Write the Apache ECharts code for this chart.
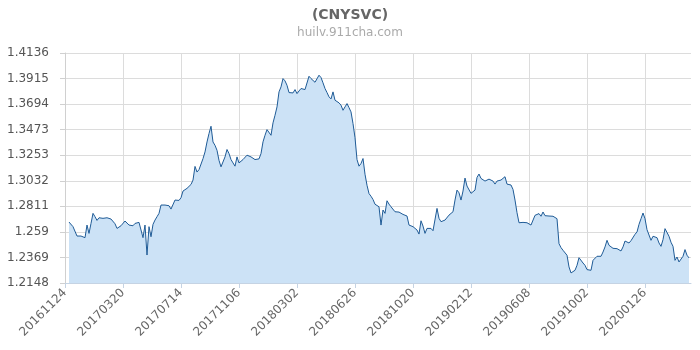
<!DOCTYPE html>
<html>
<head>
<meta charset="utf-8">
<script src="https://cdn.jsdelivr.net/npm/echarts@6/dist/echarts.min.js"></script>
<style>
html, body { margin: 0; padding: 0; background: #fff; }
#main { width: 700px; height: 350px; }
</style>
</head>
<body>
<div id="main"></div>
<script>
// one sample every 4 days, 29 samples between two date labels
const xTickLabels = ["20161124", "20170320", "20170714", "20171106", "20180302", "20180626",
    "20181020", "20190212", "20190608", "20191002", "20200126"]
const yTicks = [1.2148, 1.2369, 1.259, 1.2811, 1.3032, 1.3253, 1.3473, 1.3694, 1.3915, 1.4136]

const rates = [
    null, null,
    1.2675, 1.2686, 1.2635, 1.2626, 1.2554, 1.2563, 1.2554, 1.2568, 1.2540, 1.2649,
    1.2577, 1.2663, 1.2750, 1.2721, 1.2689, 1.2712, 1.2701, 1.2707, 1.2698, 1.2712,
    1.2707, 1.2701, 1.2707, 1.2660, 1.2620, 1.2632, 1.2643, 1.2643, 1.2684, 1.2678,
    1.2649, 1.2660, 1.2643, 1.2663, 1.2672, 1.2672, 1.2663, 1.2540, 1.2649, 1.2390,
    1.2635, 1.2548, 1.2655, 1.2692, 1.2721, 1.2750, 1.2822, 1.2828, 1.2822, 1.2833,
    1.2816, 1.2787, 1.2770, 1.2865, 1.2871, 1.2862, 1.2885, 1.2943, 1.2943, 1.2966,
    1.2983, 1.3000, 1.3038, 1.3156, 1.3107, 1.3128, 1.3136, 1.3223, 1.3281, 1.3367,
    1.3440, 1.3503, 1.3367, 1.3338, 1.3295, 1.3208, 1.3152, 1.3152, 1.3238, 1.3302,
    1.3267, 1.3215, 1.3186, 1.3158, 1.3238, 1.3186, 1.3195, 1.3215, 1.3209, 1.3253,
    1.3267, 1.3238, 1.3224, 1.3215, 1.3224, 1.3221, 1.3267, 1.3368, 1.3425, 1.3474,
    1.3477, 1.3425, 1.3532, 1.3598, 1.3670, 1.3800, 1.3843, 1.3915, 1.3895, 1.3857,
    1.3794, 1.3794, 1.3791, 1.3820, 1.3785, 1.3808, 1.3829, 1.3820, 1.3820, 1.3814,
    1.3935, 1.3915, 1.3924, 1.3883, 1.3895, 1.3944, 1.3924, 1.3878, 1.3829, 1.3794,
    1.3757, 1.3739, 1.3800, 1.3728, 1.3711, 1.3705, 1.3685, 1.3641, 1.3670, 1.3699,
    1.3664, 1.3627, 1.3526, 1.3405, 1.3215, 1.3158, 1.3181, 1.3224, 1.3088, 1.2993,
    1.2921, 1.2898, 1.2870, 1.2829, 1.2825, 1.2807, 1.2649, 1.2779, 1.2750, 1.2859,
    1.2830, 1.2807, 1.2790, 1.2764, 1.2750, 1.2761, 1.2744, 1.2741, 1.2744, 1.2727,
    1.2649, 1.2663, 1.2635, 1.2620, 1.2606, 1.2571, 1.2686, 1.2640, 1.2577, 1.2620,
    1.2612, 1.2620, 1.2600, 1.2588, 1.2793, 1.2707, 1.2678, 1.2678, 1.2692, 1.2692,
    1.2735, 1.2750, 1.2764, 1.2865, 1.2951, 1.2928, 1.2865, 1.2943, 1.3055, 1.2986,
    1.2980, 1.2923, 1.2931, 1.2951, 1.3061, 1.3090, 1.3052, 1.3038, 1.3029, 1.3023,
    1.3046, 1.3029, 1.3029, 1.3003, 1.3029, 1.3023, 1.3038, 1.3044, 1.3067, 1.3003,
    1.3000, 1.2995, 1.2957, 1.2865, 1.2756, 1.2669, 1.2678, 1.2672, 1.2675, 1.2669,
    1.2663, 1.2649, 1.2644, 1.2733, 1.2733, 1.2748, 1.2725, 1.2762, 1.2730, 1.2719,
    1.2727, 1.2719, 1.2725, 1.2725, 1.2704, 1.2488, 1.2454, 1.2431, 1.2437, 1.2388,
    1.2287, 1.2235, 1.2223, 1.2258, 1.2301, 1.2367, 1.2367, 1.2321, 1.2301, 1.2264,
    1.2249, 1.2258, 1.2344, 1.2359, 1.2379, 1.2379, 1.2379, 1.2416, 1.2460, 1.2517,
    1.2474, 1.2460, 1.2448, 1.2440, 1.2445, 1.2431, 1.2425, 1.2460, 1.2511, 1.2503,
    1.2494, 1.2514, 1.2526, 1.2569, 1.2589, 1.2655, 1.2704, 1.2753, 1.2704, 1.2609,
    1.2604, 1.2517, 1.2552, 1.2540, 1.2540, 1.2494, 1.2465, 1.2523, 1.2618, 1.2609,
    1.2552, 1.2500, 1.2465, 1.2344, 1.2373, 1.2330, 1.2344, 1.2379, 1.2437, 1.2388,
    1.2365,
    null
]

const labelEvery = 29
const categories = rates.map((v, i) => String(i))

// min has to be a multiple of the step, so the step is picked to fit the labels
const yStep = 0.02208755
const yMin = 55 * yStep
const yMax = 64 * yStep

const myCharts = echarts.init(document.getElementById("main"))
myCharts.setOption({
    animation: false,
    textStyle: {
        fontFamily: "DejaVu Sans"
    },
    title: {
        text: "(CNYSVC)",
        subtext: "huilv.911cha.com",
        left: "center",
        top: 3,
        itemGap: 5,
        textStyle: {
            fontFamily: "DejaVu Sans",
            fontSize: 14,
            fontWeight: "bold",
            color: "#666"
        },
        subtextStyle: {
            fontFamily: "DejaVu Sans",
            fontSize: 12,
            color: "#aaa"
        }
    },
    grid: {
        left: 65,
        right: 9,
        top: 53,
        bottom: 67
    },
    xAxis: {
        type: "category",
        data: categories,
        boundaryGap: false,
        axisLine: {
            lineStyle: {
                color: "#c5d3e3"
            }
        },
        axisTick: {
            interval: labelEvery - 1,
            lineStyle: {
                color: "#c5d3e3"
            }
        },
        axisLabel: {
            interval: labelEvery - 1,
            rotate: 45,
            color: "#666",
            fontSize: 12,
            formatter: (val, idx) => xTickLabels[Math.round(Number(val) / labelEvery)]
        },
        splitLine: {
            show: true,
            interval: labelEvery - 1,
            lineStyle: {
                color: "#dcdcdc"
            }
        }
    },
    yAxis: {
        type: "value",
        min: yMin,
        max: yMax,
        interval: yStep,
        axisLine: {
            show: true,
            lineStyle: {
                color: "#d0d0d0"
            }
        },
        axisTick: {
            show: true,
            lineStyle: {
                color: "#d0d0d0"
            }
        },
        axisLabel: {
            color: "#555",
            fontSize: 12,
            margin: 16,
            formatter: v => String(yTicks[Math.round((v - yMin) / yStep)])
        },
        splitLine: {
            lineStyle: {
                color: "#dcdcdc"
            }
        }
    },
    series: [
        {
            name: "CNYSVC",
            type: "line",
            data: rates,
            showSymbol: false,
            lineStyle: {
                color: "#1f5b96",
                width: 1
            },
            areaStyle: {
                color: "#cce2f6",
                opacity: 1
            }
        }
    ]
})
</script>
</body>
</html>
